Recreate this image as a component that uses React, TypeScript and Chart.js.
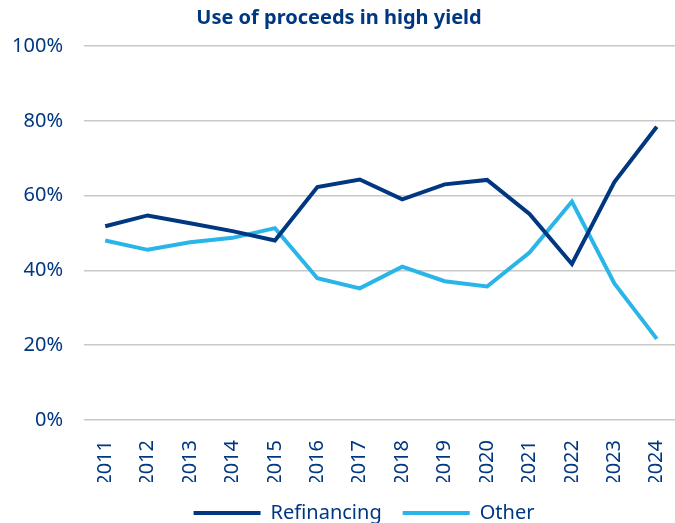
import React, { useEffect, useRef } from "react";
import { Chart, registerables } from "chart.js";

Chart.register(...registerables);

const years = ["2011","2012","2013","2014","2015","2016","2017","2018","2019","2020","2021","2022","2023","2024"];
const refinancing = [51.8, 54.7, 52.6, 50.5, 48.0, 62.3, 64.3, 59.0, 63.0, 64.2, 55.1, 41.7, 63.6, 78.4];
const other = [48.0, 45.5, 47.5, 48.7, 51.3, 37.9, 35.2, 41.0, 37.1, 35.7, 44.8, 58.4, 36.5, 21.7];
const yTicks = [0, 20, 40, 60, 80, 100];

const NAVY = "#003781";
const LIGHT = "#29B5E8";
const FONT = "'Noto Sans', 'Open Sans', sans-serif";

const legendShift = {
  id: "legendShift",
  afterLayout(chart: any) {
    const l = chart.legend;
    if (l) {
      l.left += 25;
      l.right += 25;
    }
  },
};

export default function App() {
  const ref = useRef<HTMLCanvasElement | null>(null);
  useEffect(() => {
    if (!ref.current) return;
    const chart = new Chart(ref.current, {
      type: "line",
      data: {
        labels: years,
        datasets: [
          { label: "Refinancing", data: refinancing, borderColor: NAVY, backgroundColor: NAVY, borderWidth: 4, pointRadius: 0, tension: 0 },
          { label: "Other", data: other, borderColor: LIGHT, backgroundColor: LIGHT, borderWidth: 4, pointRadius: 0, tension: 0 },
        ],
      },
      plugins: [legendShift],
      options: {
        animation: false,
        responsive: true,
        maintainAspectRatio: false,
        layout: { padding: { top: 0, right: 0, left: 0, bottom: 0 } },
        plugins: {
          title: {
            display: true,
            text: "Use of proceeds in high yield",
            color: NAVY,
            font: { family: FONT, size: 20, weight: "bold" },
            padding: { top: 6, bottom: 16 },
          },
          legend: {
            position: "bottom",
            labels: {
              color: NAVY,
              font: { family: FONT, size: 20 },
              boxWidth: 67,
              boxHeight: 4,
              padding: 21,
              generateLabels: (c: any) => {
                const items = Chart.defaults.plugins.legend.labels.generateLabels(c);
                items.forEach((it: any) => { it.lineWidth = 0; });
                return items;
              },
            },
          },
          tooltip: { enabled: false },
        },
        scales: {
          x: {
            offset: true,
            grid: { display: false, drawTicks: false },
            border: { display: false },
            ticks: {
              color: NAVY,
              font: { family: FONT, size: 20 },
              maxRotation: 90,
              minRotation: 90,
              padding: 20,
              autoSkip: false,
            },
            afterFit: (s: any) => {
              s.paddingLeft = 0;
              s.paddingRight = 0;
              s.height = 62;
            },
          },
          y: {
            min: 0,
            max: 100,
            afterBuildTicks: (axis: any) => { axis.ticks = yTicks.map((v) => ({ value: v })); },
            grid: { color: "#c8c8c8", lineWidth: 1.5, drawTicks: false },
            border: { display: false },
            ticks: {
              color: NAVY,
              font: { family: FONT, size: 20 },
              padding: 21,
              callback: (v: any) => v + "%",
            },
            afterFit: (s: any) => {
              s.width = 84;
            },
          },
        },
      },
    });
    return () => chart.destroy();
  }, []);
  return (
    <div style={{ position: "fixed", left: 0, top: 0, width: 675, height: 523, overflow: "hidden", background: "#fff" }}>
      <div style={{ position: "relative", width: 678, height: 533 }}>
        <canvas ref={ref} />
      </div>
    </div>
  );
}
